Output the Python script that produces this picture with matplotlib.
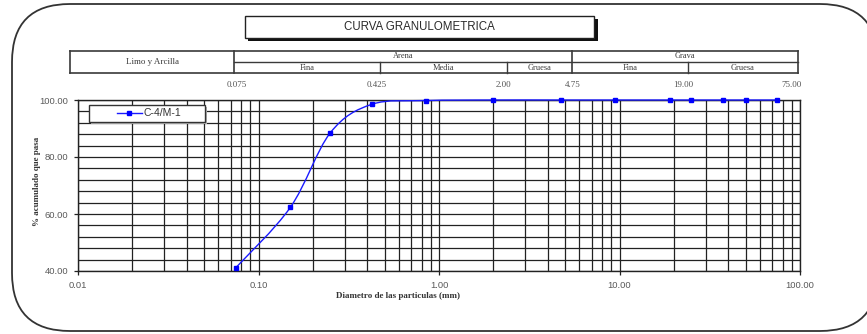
import numpy as np
import matplotlib
matplotlib.use("Agg")
import matplotlib.pyplot as plt
from matplotlib.path import Path
from matplotlib.patches import PathPatch, Rectangle, FancyBboxPatch
from matplotlib.ticker import FixedLocator, MultipleLocator, LogLocator, NullFormatter

# sieve analysis, sample C-4/M-1
sieve_mm = [0.075, 0.15, 0.25, 0.425, 0.85, 2.0, 4.75, 9.5, 19.0, 25.0, 37.5, 50.0, 75.0]
passing = [41.2, 62.3, 88.5, 98.5, 99.8, 100.0, 100.0, 100.0, 100.0, 100.0, 100.0, 100.0, 100.0]
sample_name = "C-4/M-1"

x_ticks = [0.01, 0.1, 1, 10, 100]
x_ticklabels = ["0.01", "0.10", "1.00", "10.00", "100.00"]
y_ticks = [40, 60, 80, 100]

# classification header (positions in pixels)
header_edges = [70, 234, 380, 507, 572, 688, 798]
limit_labels = ["0.075", "0.425", "2.00", "4.75", "19.00", "75.00"]
limit_label_x = [237, 377, 503, 573, 683, 792]

W, H = 867, 334
fig = plt.figure(figsize=(W / 100, H / 100), dpi=100)
fig.patch.set_facecolor("white")

# background layer in pixel units
bg = fig.add_axes([0, 0, 1, 1], zorder=0)
bg.set_xlim(0, W)
bg.set_ylim(H, 0)
bg.axis("off")

bg.add_patch(FancyBboxPatch((12, 4), 866, 327, boxstyle="round,pad=0,rounding_size=58",
                            fc="white", ec="#333333", lw=1.3))

# title box with shadow
bg.add_patch(Rectangle((248, 19), 350, 22, fc="#111111", ec="none"))
bg.add_patch(Rectangle((245, 16), 349, 22, fc="white", ec="#222222", lw=1.0))
bg.text(419.5, 27.5, "CURVA GRANULOMETRICA", ha="center", va="center",
        fontsize=8.3, family="Liberation Sans", color="#2a2a2a")

# header table
serif = "Liberation Serif"
hc = "#3a3a3a"
e = header_edges
top, mid, bot = 50.5, 61.8, 73.3
bg.plot([e[0], e[-1]], [top, top], color=hc, lw=1.2)
bg.plot([e[0], e[-1]], [bot, bot], color=hc, lw=1.2)
bg.plot([e[1], e[-1]], [mid, mid], color=hc, lw=1.0)
for xe in [e[0], e[1], e[4], e[6]]:
    bg.plot([xe, xe], [top, bot], color=hc, lw=1.2)
for xe in [e[2], e[3], e[5]]:
    bg.plot([xe, xe], [mid, bot], color=hc, lw=1.0)
bg.text((e[0] + e[1]) / 2, (top + bot) / 2, "Limo y Arcilla", ha="center", va="center",
        fontsize=6.5, family=serif, color=hc)
bg.text((e[1] + e[4]) / 2, (top + mid) / 2, "Arena", ha="center", va="center",
        fontsize=6, family=serif, color=hc)
bg.text((e[4] + e[6]) / 2, (top + mid) / 2, "Grava", ha="center", va="center",
        fontsize=6, family=serif, color=hc)
for a, b, name in [(e[1], e[2], "Fina"), (e[2], e[3], "Media"), (e[3], e[4], "Gruesa"),
                   (e[4], e[5], "Fina"), (e[5], e[6], "Gruesa")]:
    bg.text((a + b) / 2, (mid + bot) / 2, name, ha="center", va="center",
            fontsize=6, family=serif, color=hc)
for xl, lab in zip(limit_label_x, limit_labels):
    bg.text(xl, 85, lab, ha="center", va="center", fontsize=6.5, family=serif, color="#555555")

# main chart
left, right, top_px, bot_px = 78, 800, 100, 271
ax = fig.add_axes([left / W, 1 - bot_px / H, (right - left) / W, (bot_px - top_px) / H], zorder=1)
ax.patch.set_alpha(0)
ax.set_xscale("log")
ax.set_xlim(0.01, 100)
ax.set_ylim(40, 100)

ax.xaxis.set_major_locator(FixedLocator(x_ticks))
ax.set_xticklabels(x_ticklabels)
ax.xaxis.set_minor_locator(LogLocator(base=10, subs=np.arange(2, 10)))
ax.xaxis.set_minor_formatter(NullFormatter())
ax.yaxis.set_major_locator(FixedLocator(y_ticks))
ax.set_yticklabels([f"{v:.2f}" for v in y_ticks])
ax.yaxis.set_minor_locator(MultipleLocator(4))

ax.grid(which="both", color="#222222", lw=0.9)
ax.set_axisbelow(True)
ax.tick_params(which="major", length=3, width=0.9, pad=4, labelsize=6.8, labelcolor="#5a5a5a",
               color="#222222")
ax.tick_params(which="minor", length=0)
for lab in ax.get_xticklabels() + ax.get_yticklabels():
    lab.set_family("Liberation Sans")
for sp in ax.spines.values():
    sp.set_color("#222222")
    sp.set_linewidth(1.0)

# smoothed curve: Catmull-Rom segments converted to cubic Bezier in log-x space
lx = np.log10(sieve_mm)
py = np.array(passing)
pts = np.column_stack([lx, py])
ext = np.vstack([pts[0], pts, pts[-1]])
verts = [pts[0]]
codes = [Path.MOVETO]
for i in range(1, len(ext) - 2):
    p0, p1, p2, p3 = ext[i - 1], ext[i], ext[i + 1], ext[i + 2]
    verts += [p1 + (p2 - p0) / 6, p2 - (p3 - p1) / 6, p2]
    codes += [Path.CURVE4] * 3
verts = np.array(verts)
verts[:, 0] = 10 ** verts[:, 0]
ax.add_patch(PathPatch(Path(verts, codes), fill=False, ec="#1a1aff", lw=1.0, clip_on=False, zorder=3))
ax.plot(sieve_mm, passing, ls="none", marker="s", ms=3.5, color="#0000ff", clip_on=False, zorder=4)

# legend frame with shadow, drawn over the grid (pixel coordinates)
ax.add_patch(Rectangle((91, 107), 116, 17, fc="#b0b0b0", ec="none", transform=bg.transData,
                       clip_on=False, zorder=4.6))
ax.add_patch(Rectangle((89, 105), 116, 17, fc="white", ec="#333333", lw=1.0, transform=bg.transData,
                       clip_on=False, zorder=4.7))

ax.plot([], [], color="#1a1aff", lw=1.0, marker="s", ms=3.5, mfc="#0000ff", mec="#0000ff", label=sample_name)
leg = ax.legend(loc="center", bbox_to_anchor=(149 / W, 1 - 113.5 / H), bbox_transform=fig.transFigure,
                frameon=False, handlelength=2.4, handletextpad=0.2, borderpad=0,
                prop={"family": "Liberation Sans", "size": 7.5})
leg.set_zorder(5)
for t in leg.get_texts():
    t.set_color("#333333")

ax.set_xlabel("Diametro de las particulas (mm)", family=serif, fontweight="bold", fontsize=6.5,
              color="#333333")
ax.xaxis.set_label_coords((398 - left) / (right - left), -(292 - bot_px) / (bot_px - top_px))
ax.set_ylabel("% acumulado que pasa", family=serif, fontweight="bold", fontsize=6.5, color="#333333")
ax.yaxis.set_label_coords(-(left - 41) / (right - left), (bot_px - 181) / (bot_px - top_px))

fig.savefig("out.png", dpi=100, facecolor="white")
